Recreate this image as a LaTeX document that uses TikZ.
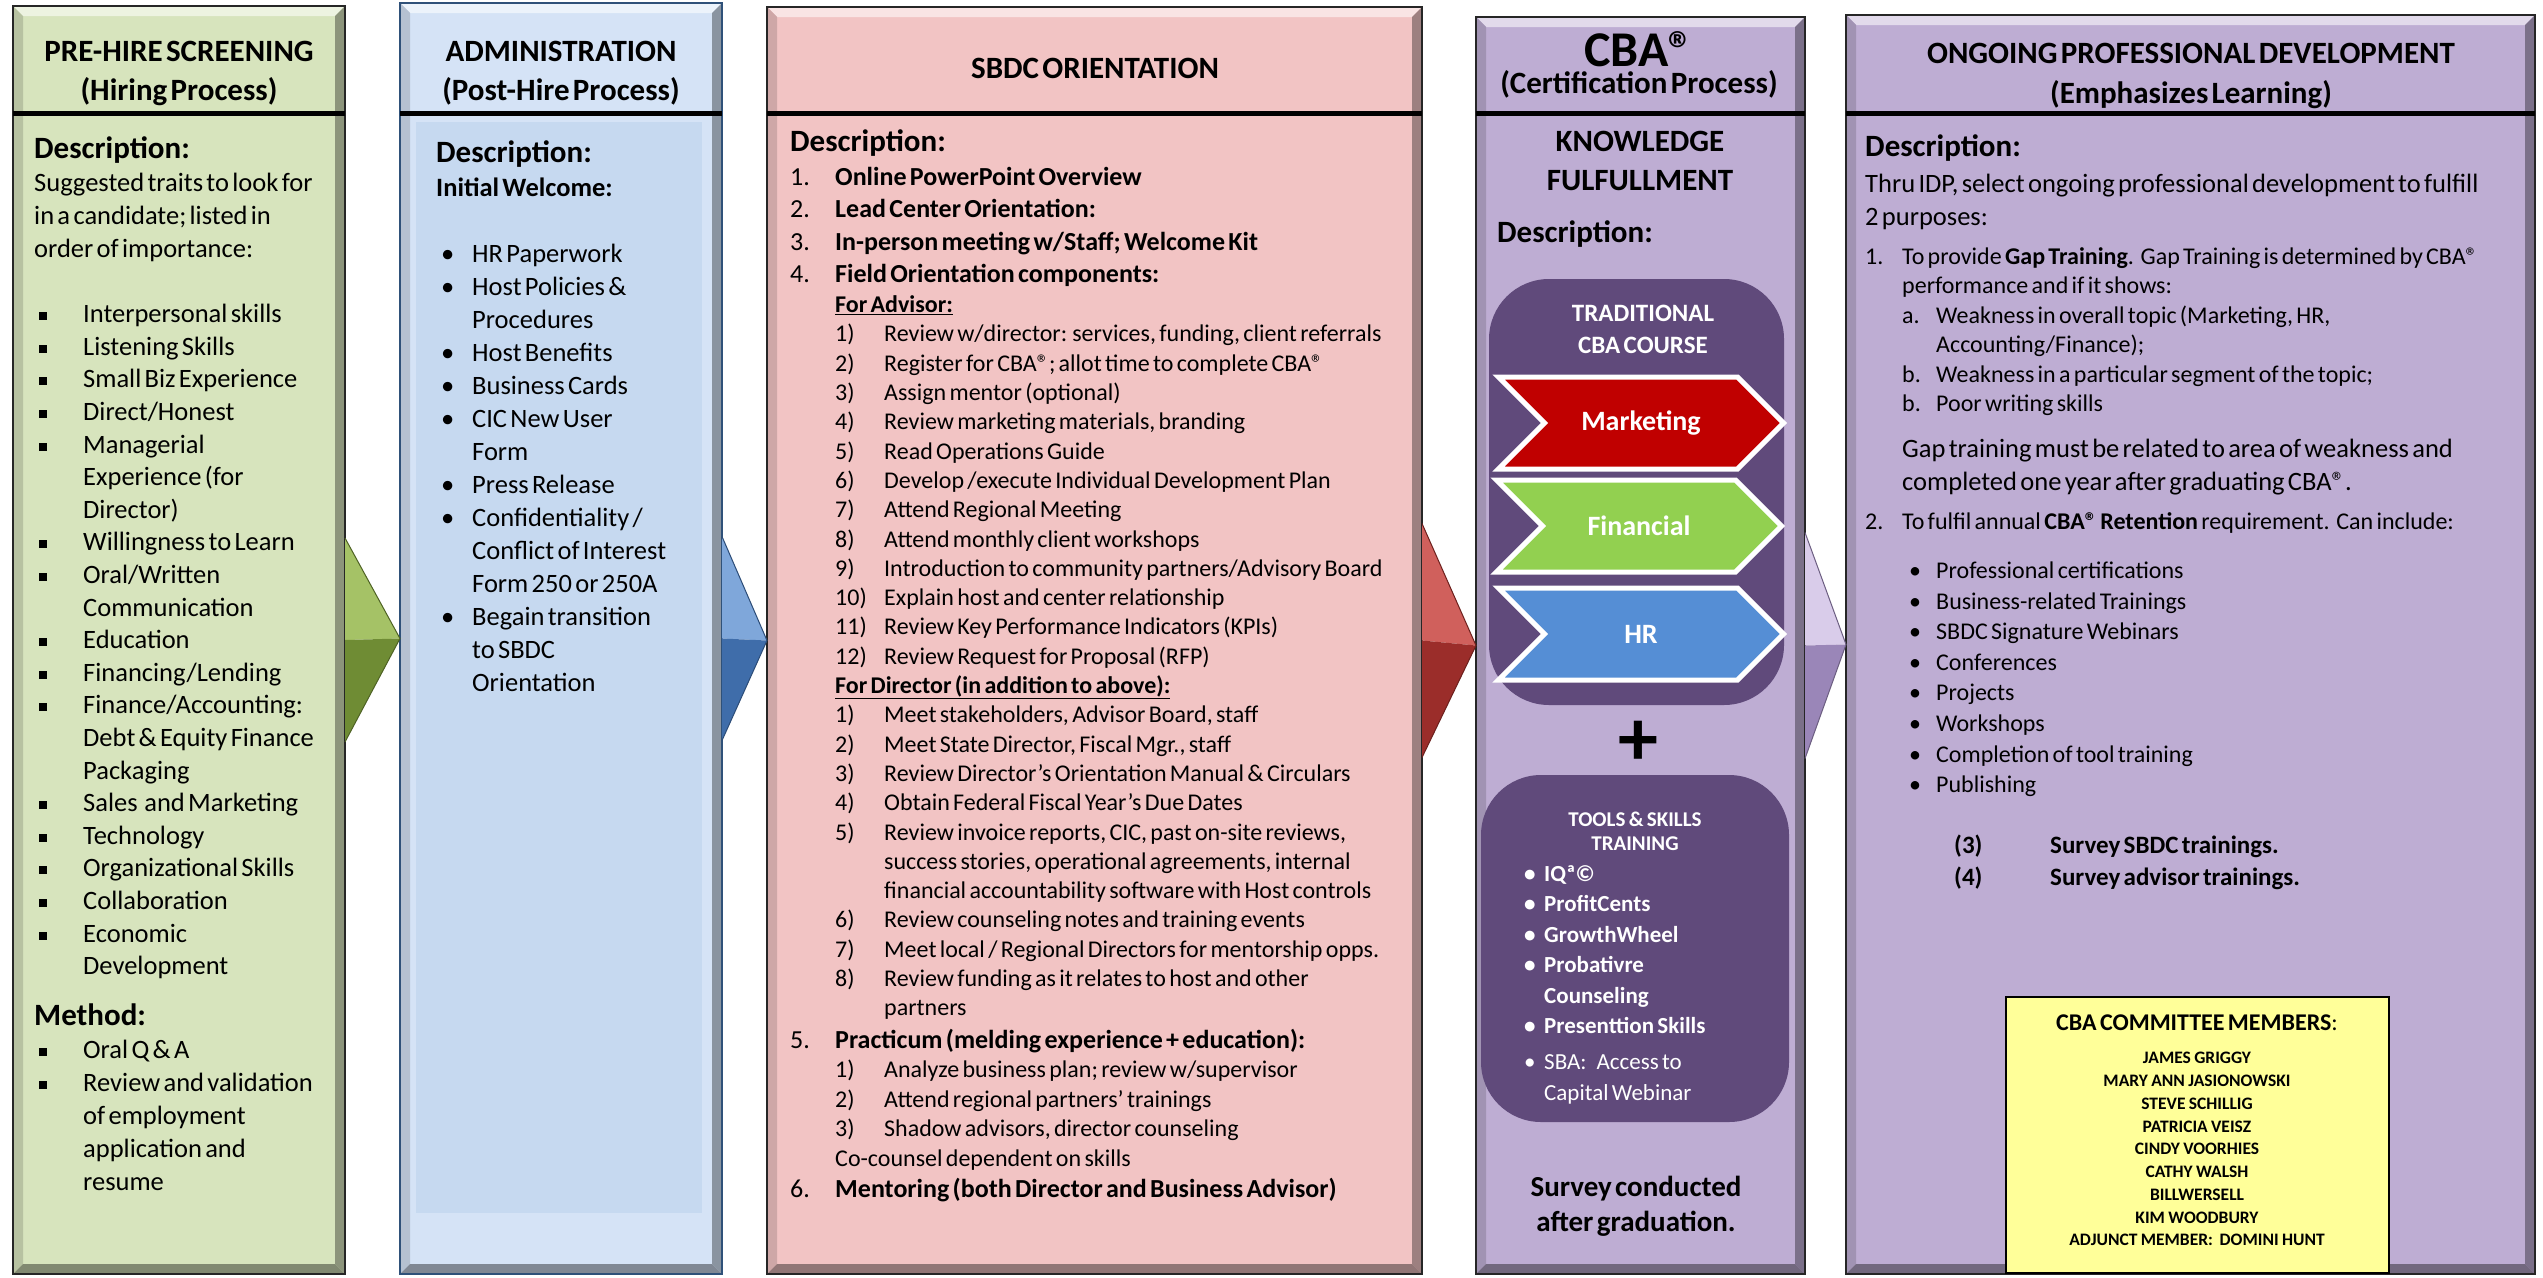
\documentclass[tikz,border=0pt]{standalone}
\usepackage{fontspec}
\setmainfont{Carlito}
\usetikzlibrary{calc,shapes.symbols}

% column fills
\definecolor{hiregreen}{HTML}{D7E4BD}
\definecolor{adminblue}{HTML}{D5E3F6}
\definecolor{welcomeblue}{HTML}{C6D9F0}
\definecolor{adminedge}{HTML}{2F5179}
\definecolor{orientpink}{HTML}{F2C4C4}
\definecolor{cbapurple}{HTML}{BEADD3}
\definecolor{darkpurple}{HTML}{604A7B}
\definecolor{mktred}{HTML}{C00000}
\definecolor{fingreen}{HTML}{92D050}
\definecolor{hrblue}{HTML}{558ED5}
\definecolor{memberyellow}{HTML}{FFFF99}
% pointer facets
\definecolor{greenA}{HTML}{A5C266}
\definecolor{greenB}{HTML}{6F8C34}
\definecolor{blueA}{HTML}{7FA7DA}
\definecolor{blueB}{HTML}{3F6DAA}
\definecolor{redA}{HTML}{D0605C}
\definecolor{redB}{HTML}{9B2D2A}
\definecolor{purpA}{HTML}{D9CCEA}
\definecolor{purpB}{HTML}{9A86B8}

\newcommand\fs[2]{\fontsize{#1}{#2}\selectfont}
% hanging list line: label box width, label, text
\newcommand\lineitem[3]{\noindent\hangindent=#1\hangafter=1\makebox[#1][l]{#2}#3\par}
% second level: left skip, label box width, label, text
\newcommand\sublineitem[4]{{\leftskip=#1\noindent\hangindent=#2\hangafter=1\makebox[#2][l]{#3}#4\par}}
\newcommand\sqbul{\hspace*{5pt}\rule[2.5pt]{8pt}{8pt}}
\newcommand\dotbul{\hspace*{5pt}\textbullet}

% bevelled frame round a column node
\newcommand\bevel[4][black!85]{%
  \fill[#3!45!white] (#2.north west) -- (#2.north east) -- ([shift={(-#4,#4)}]#2.north east) -- ([shift={(#4,#4)}]#2.north west) -- cycle;
  \fill[#3!85!black] (#2.north west) -- (#2.south west) -- ([shift={(#4,-#4)}]#2.south west) -- ([shift={(#4,#4)}]#2.north west) -- cycle;
  \fill[#3!65!black] (#2.north east) -- (#2.south east) -- ([shift={(-#4,-#4)}]#2.south east) -- ([shift={(-#4,#4)}]#2.north east) -- cycle;
  \fill[#3!60!black] (#2.south west) -- (#2.south east) -- ([shift={(-#4,-#4)}]#2.south east) -- ([shift={(#4,-#4)}]#2.south west) -- cycle;
  \draw[line width=2.5pt, #1] (#2.north west) rectangle (#2.south east);
}
% pyramid pointer from one column to the next
\newcommand\pointer[5]{%
  \fill[#4] ($(#1.east)+(0,-#3)$) -- (#2.west) -- (#1.east) -- cycle;
  \fill[#5] ($(#1.east)+(0,#3)$) -- (#2.west) -- (#1.east) -- cycle;
  \draw[#5!70!black, line width=1pt] ($(#1.east)+(0,-#3)$) -- (#2.west) -- ($(#1.east)+(0,#3)$);
}

\tikzset{
  col/.style={anchor=north west, inner sep=0pt, outer sep=0pt},
  sepline/.style={line width=5pt},
  head/.style={anchor=base, align=center, inner sep=0pt, font=\bfseries},
  body/.style={anchor=base west, align=left, inner sep=0pt},
  panel/.style={fill=darkpurple, rounded corners=60pt, inner sep=0pt},
  chev/.style={signal, signal from=west, signal to=east, draw=white, line width=5pt,
    text=white, font=\bfseries\fs{28}{28}, minimum width=285pt, minimum height=92pt, inner sep=0pt},
}

\begin{document}
\begin{tikzpicture}[x=1pt,y=-1pt]
\useasboundingbox (0,0) rectangle (2543,1277);
\fill[white] (0,0) rectangle (2543,1277);

% the five columns
\node[col, fill=hiregreen, minimum width=332pt, minimum height=1268pt] (pre) at (13,6) {};
\node[col, fill=adminblue, minimum width=322pt, minimum height=1271pt] (admin) at (400,3) {};
\node[col, fill=orientpink, minimum width=655pt, minimum height=1267pt] (orient) at (767,7) {};
\node[col, fill=cbapurple, minimum width=329pt, minimum height=1257pt] (cba) at (1476,17) {};
\node[col, fill=cbapurple, minimum width=689pt, minimum height=1259pt] (ongoing) at (1846,15) {};
\bevel{pre}{hiregreen}{10}
\bevel[adminedge]{admin}{adminblue}{10}
\bevel{orient}{orientpink}{10}
\bevel{cba}{cbapurple}{10}
\bevel{ongoing}{cbapurple}{10}
\node[col, fill=welcomeblue, minimum width=286pt, minimum height=1091pt] (welcome) at (416,122) {};

% pointers between columns
\pointer{pre}{admin}{102}{greenA}{greenB}
\pointer{admin}{orient}{102}{blueA}{blueB}
\pointer{orient}{cba}{117}{redA}{redB}
\pointer{cba}{ongoing}{113}{purpA}{purpB}

% title rules
\draw[sepline] (pre.west |- 0,113) -- (pre.east |- 0,113);
\draw[sepline] (admin.west |- 0,113) -- (admin.east |- 0,113);
\draw[sepline] (orient.west |- 0,113) -- (orient.east |- 0,113);
\draw[sepline] (cba.west |- 0,113) -- (cba.east |- 0,113);
\draw[sepline] (ongoing.west |- 0,113) -- (ongoing.east |- 0,113);

% titles
\node[head, text width=330pt] (prehead) at (179,61) {\fs{31}{39}PRE-HIRE SCREENING\\(Hiring Process)\par};
\node[head, text width=320pt] (adminhead) at (561,61) {\fs{31}{39}ADMINISTRATION\\(Post-Hire Process)\par};
\node[head, text width=600pt] (orienthead) at (1095,78) {\fs{31}{39}SBDC ORIENTATION\par};
\node[head, text width=325pt] (cbahead) at (1639,66) {\fs{50}{50}CBA®\par
  \fs{31}{27}\lineskiplimit=-50pt (Certification Process)\par};
\node[head, text width=680pt] (ongoinghead) at (2191,63) {\fs{31}{40}ONGOING PROFESSIONAL DEVELOPMENT\\(Emphasizes Learning)\par};

% pre-hire screening
\node[body, text width=315pt] (prebody) at (34,158) {%
\fs{31}{34}\bfseries Description:\par
\fs{26.5}{33}\mdseries Suggested traits to look for\\in a candidate; listed in\\order of importance:\par
\vspace{33pt}\fs{26.5}{32.6}%
\lineitem{49pt}{\sqbul}{Interpersonal skills}
\lineitem{49pt}{\sqbul}{Listening Skills}
\lineitem{49pt}{\sqbul}{Small Biz Experience}
\lineitem{49pt}{\sqbul}{Direct/Honest}
\lineitem{49pt}{\sqbul}{Managerial\newline Experience (for\newline Director)}
\lineitem{49pt}{\sqbul}{Willingness to Learn}
\lineitem{49pt}{\sqbul}{Oral/Written\newline Communication}
\lineitem{49pt}{\sqbul}{Education}
\lineitem{49pt}{\sqbul}{Financing/Lending}
\lineitem{49pt}{\sqbul}{Finance/Accounting:\newline Debt \& Equity Finance\newline Packaging}
\lineitem{49pt}{\sqbul}{Sales~ and Marketing}
\lineitem{49pt}{\sqbul}{Technology}
\lineitem{49pt}{\sqbul}{Organizational Skills}
\lineitem{49pt}{\sqbul}{Collaboration}
\lineitem{49pt}{\sqbul}{Economic\newline Development}
\vspace{17pt}\fs{31}{34}\bfseries Method:\par
\fs{26.5}{33}\mdseries
\lineitem{49pt}{\sqbul}{Oral Q \& A}
\lineitem{49pt}{\sqbul}{Review and validation\newline of employment\newline application and\newline resume}
};

% administration
\node[body, text width=285pt] (adminbody) at (436,162) {%
\fs{31}{34}\bfseries Description:\par
\fs{26.5}{34.6}Initial Welcome:\par
\vspace{32.4pt}\fs{26.5}{33}\mdseries
\lineitem{36pt}{\dotbul}{HR Paperwork}
\lineitem{36pt}{\dotbul}{Host Policies \&\newline Procedures}
\lineitem{36pt}{\dotbul}{Host Benefits}
\lineitem{36pt}{\dotbul}{Business Cards}
\lineitem{36pt}{\dotbul}{CIC New User\newline Form}
\lineitem{36pt}{\dotbul}{Press Release}
\lineitem{36pt}{\dotbul}{Confidentiality /\newline Conflict of Interest\newline Form 250 or 250A}
\lineitem{36pt}{\dotbul}{Begain transition\newline to SBDC\newline Orientation}
};

% SBDC orientation
\node[body, text width=640pt] (orientbody) at (790,151) {%
\fs{31}{34}\bfseries Description:\par
\vspace{2pt}\fs{26}{32.4}\mdseries
\lineitem{45pt}{1.}{\textbf{Online PowerPoint Overview}}
\lineitem{45pt}{2.}{\textbf{Lead Center Orientation:}}
\lineitem{45pt}{3.}{\textbf{In-person meeting w/Staff; Welcome Kit}}
\lineitem{45pt}{4.}{\textbf{Field Orientation components:}}
\fs{24}{30}{\leftskip=45pt\noindent\textbf{\underline{For Advisor:}}\par}
\fs{24}{29.3}%
\sublineitem{45pt}{49pt}{1)}{Review w/director: services, funding, client referrals}
\sublineitem{45pt}{49pt}{2)}{Register for CBA®; allot time to complete CBA®}
\sublineitem{45pt}{49pt}{3)}{Assign mentor (optional)}
\sublineitem{45pt}{49pt}{4)}{Review marketing materials, branding}
\sublineitem{45pt}{49pt}{5)}{Read Operations Guide}
\sublineitem{45pt}{49pt}{6)}{Develop /execute Individual Development Plan}
\sublineitem{45pt}{49pt}{7)}{Attend Regional Meeting}
\sublineitem{45pt}{49pt}{8)}{Attend monthly client workshops}
\sublineitem{45pt}{49pt}{9)}{Introduction to community partners/Advisory Board}
\sublineitem{45pt}{49pt}{10)}{Explain host and center relationship}
\sublineitem{45pt}{49pt}{11)}{Review Key Performance Indicators (KPIs)}
\sublineitem{45pt}{49pt}{12)}{Review Request for Proposal (RFP)}
{\leftskip=45pt\noindent\textbf{\underline{For Director (in addition to above):}}\par}
\sublineitem{45pt}{49pt}{1)}{Meet stakeholders, Advisor Board, staff}
\sublineitem{45pt}{49pt}{2)}{Meet State Director, Fiscal Mgr., staff}
\sublineitem{45pt}{49pt}{3)}{Review Director’s Orientation Manual \& Circulars}
\sublineitem{45pt}{49pt}{4)}{Obtain Federal Fiscal Year’s Due Dates}
\sublineitem{45pt}{49pt}{5)}{Review invoice reports, CIC, past on-site reviews,\newline success stories, operational agreements, internal\newline financial accountability software with Host controls}
\sublineitem{45pt}{49pt}{6)}{Review counseling notes and training events}
\sublineitem{45pt}{49pt}{7)}{Meet local / Regional Directors for mentorship opps.}
\sublineitem{45pt}{49pt}{8)}{Review funding as it relates to host and other\newline partners}
\fs{26}{32.4}%
\lineitem{45pt}{5.}{\textbf{Practicum (melding experience + education):}}
\fs{24}{29.5}%
\sublineitem{45pt}{49pt}{1)}{Analyze business plan; review w/supervisor}
\sublineitem{45pt}{49pt}{2)}{Attend regional partners’ trainings}
\sublineitem{45pt}{49pt}{3)}{Shadow advisors, director counseling}
{\leftskip=45pt\noindent Co-counsel dependent on skills\par}
\fs{26}{31.5}%
\lineitem{45pt}{6.}{\textbf{Mentoring (both Director and Business Advisor)}}
};

% CBA certification
\node[head, text width=320pt] (knowhead) at (1640,151) {\fs{31}{39}KNOWLEDGE\\FULFULLMENT\par};
\node[body, font=\bfseries] (cbadesc) at (1497,242) {\fs{31}{34}Description:};
\node[panel, minimum width=295pt, minimum height=426pt] (course) at (1636.5,492) {};
\node[head, text width=280pt, text=white] (coursehead) at (1643,321) {\fs{25}{32}TRADITIONAL\\CBA COURSE\par};
\node[chev, fill=mktred] (mkt) at (1641,423) {Marketing};
\node[chev, fill=fingreen] (fin) at (1639,526) {Financial};
\node[chev, fill=hrblue] (hr) at (1641,634) {HR};
\node[font=\bfseries\fs{80}{80}, inner sep=0pt] (plus) at (1638,743) {+};
\node[panel, minimum width=308pt, minimum height=347pt] (tools) at (1635,948.5) {};
\node[head, text width=290pt, text=white] (toolshead) at (1635,826) {\fs{21}{24}TOOLS \& SKILLS\\TRAINING\par};
\node[body, text width=260pt, text=white] (toolsbody) at (1524,881) {%
\fs{23}{30.5}\bfseries
\lineitem{20pt}{\textbullet}{IQª©}
\lineitem{20pt}{\textbullet}{ProfitCents}
\lineitem{20pt}{\textbullet}{GrowthWheel}
\lineitem{20pt}{\textbullet}{Probativre\newline Counseling}
\lineitem{20pt}{\textbullet}{Presenttion Skills}
\vspace{5.5pt}\mdseries
\lineitem{20pt}{\textbullet}{SBA:\ \ \ Access to\newline Capital Webinar}
};
\node[head, text width=320pt] (survey) at (1636,1196) {\fs{29}{35}Survey conducted\\after graduation.\par};

% ongoing professional development
\node[body, text width=680pt] (ongoingbody) at (1865,156) {%
\fs{31}{34}\bfseries Description:\par
\vspace{3pt}\fs{26.5}{33}\mdseries Thru IDP, select ongoing professional development to fulfill\\2 purposes:\par
\vspace{9.5pt}\fs{24}{29.5}%
\lineitem{37pt}{1.}{To provide \textbf{Gap Training}.\ \ Gap Training is determined by CBA®\newline performance and if it shows:}
\sublineitem{37pt}{34pt}{a.}{Weakness in overall topic (Marketing, HR,\newline Accounting/Finance);}
\sublineitem{37pt}{34pt}{b.}{Weakness in a particular segment of the topic;}
\sublineitem{37pt}{34pt}{b.}{Poor writing skills}
\vspace{13pt}\fs{26.5}{33}%
{\leftskip=37pt\noindent Gap training must be related to area of weakness and\\completed one year after graduating CBA®.\par}
\vspace{9.5pt}\fs{24}{29.5}%
\lineitem{37pt}{2.}{To fulfil annual \textbf{CBA® Retention} requirement.\ \ Can include:}
\vspace{18.4pt}\fs{24}{30.6}%
\lineitem{71pt}{\hspace*{44pt}\textbullet}{Professional certifications}
\lineitem{71pt}{\hspace*{44pt}\textbullet}{Business-related Trainings}
\lineitem{71pt}{\hspace*{44pt}\textbullet}{SBDC Signature Webinars}
\lineitem{71pt}{\hspace*{44pt}\textbullet}{Conferences}
\lineitem{71pt}{\hspace*{44pt}\textbullet}{Projects}
\lineitem{71pt}{\hspace*{44pt}\textbullet}{Workshops}
\lineitem{71pt}{\hspace*{44pt}\textbullet}{Completion of tool training}
\lineitem{71pt}{\hspace*{44pt}\textbullet}{Publishing}
};
\node[body, text width=500pt] (surveys) at (1954,853) {%
\fs{25}{32}\bfseries
\lineitem{96pt}{(3)}{Survey SBDC trainings.}
\lineitem{96pt}{(4)}{Survey advisor trainings.}
};
\node[col, fill=memberyellow, draw=black, line width=1.5pt, minimum width=383pt, minimum height=276pt] (committee) at (2006,997) {};
\node[head, text width=380pt] (members) at (2197,1030) {%
\fs{24}{30}CBA COMMITTEE MEMBERS\mdseries:\par
\vspace{11pt}\fs{17.5}{22.75}\bfseries JAMES GRIGGY\\MARY ANN JASIONOWSKI\\STEVE SCHILLIG\\PATRICIA VEISZ\\CINDY VOORHIES\\CATHY WALSH\\BILLWERSELL\\KIM WOODBURY\\ADJUNCT MEMBER:\ \ DOMINI HUNT\par};
\end{tikzpicture}
\end{document}
